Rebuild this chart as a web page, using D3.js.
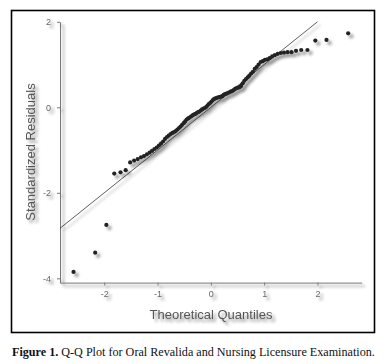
<!DOCTYPE html>
<html><head><meta charset="utf-8">
<script src="https://cdn.jsdelivr.net/npm/d3@7"></script>
<style>body{margin:0;background:#fff}</style>
</head><body>
<svg id="c" width="386" height="364"></svg>
<script>
// ---- data ----
const theoretical = [
 -2.576,-2.170,-1.960,-1.812,-1.695,-1.598,-1.514,-1.440,-1.372,-1.311,
 -1.254,-1.200,-1.150,-1.103,-1.058,-1.015,-0.974,-0.935,-0.896,-0.860,
 -0.824,-0.789,-0.755,-0.722,-0.690,-0.659,-0.628,-0.598,-0.568,-0.539,
 -0.510,-0.482,-0.454,-0.426,-0.399,-0.372,-0.345,-0.319,-0.292,-0.266,
 -0.240,-0.215,-0.189,-0.164,-0.138,-0.113,-0.088,-0.063,-0.038,-0.013,
 0.013,0.038,0.063,0.088,0.113,0.138,0.164,0.189,0.215,0.240,
 0.266,0.292,0.319,0.345,0.372,0.399,0.426,0.454,0.482,0.510,
 0.539,0.568,0.598,0.628,0.659,0.690,0.722,0.755,0.789,0.824,
 0.860,0.896,0.935,0.974,1.015,1.058,1.103,1.150,1.200,1.254,
 1.311,1.372,1.440,1.514,1.598,1.695,1.812,1.960,2.170,2.576];
const residuals = [
 -3.85,-3.40,-2.75,-1.55,-1.52,-1.47,-1.29,-1.245,-1.21,-1.17,
 -1.14,-1.10,-1.06,-1.02,-0.975,-0.94,-0.895,-0.85,-0.80,-0.74,
 -0.695,-0.66,-0.625,-0.60,-0.58,-0.555,-0.52,-0.485,-0.45,-0.41,
 -0.37,-0.33,-0.285,-0.26,-0.24,-0.215,-0.19,-0.17,-0.155,-0.135,
 -0.11,-0.10,-0.075,-0.05,-0.03,-0.016,0.007,0.04,0.077,0.10,
 0.135,0.17,0.195,0.21,0.22,0.235,0.24,0.25,0.26,0.29,
 0.31,0.32,0.335,0.35,0.365,0.38,0.40,0.43,0.45,0.46,
 0.47,0.50,0.56,0.62,0.66,0.70,0.74,0.79,0.83,0.90,
 0.94,1.00,1.06,1.08,1.11,1.12,1.15,1.19,1.22,1.25,
 1.27,1.28,1.29,1.29,1.32,1.34,1.34,1.56,1.575,1.73];
const xTicks = [-2,-1,0,1,2];
const yTicks = [-4,-2,0,2];
const xDomain = [-2.83, 2.83];
const yDomain = [-4.1, 2];
const qqSlope = 1, qqIntercept = 0;
const xTitle = "Theoretical Quantiles";
const yTitle = "Standardized Residuals";
const captionBold = "Figure 1.";
const captionRest = " Q-Q Plot for Oral Revalida and Nursing Licensure Examination.";

// ---- drawing ----
const svg = d3.select("#c");
const defs = svg.append("defs");
const f = defs.append("filter").attr("id","sh").attr("x","-20%").attr("y","-20%").attr("width","140%").attr("height","140%");
f.append("feGaussianBlur").attr("in","SourceAlpha").attr("stdDeviation",1.7).attr("result","b");
f.append("feOffset").attr("in","b").attr("dx",2.5).attr("dy",3).attr("result","o");
f.append("feComponentTransfer").attr("in","o").attr("result","t")
  .append("feFuncA").attr("type","linear").attr("slope",0.45);
const m = f.append("feMerge");
m.append("feMergeNode").attr("in","t");
m.append("feMergeNode").attr("in","SourceGraphic");

svg.append("rect").attr("x",11.5).attr("y",10.5).attr("width",363).attr("height",322)
  .attr("fill","#fff").attr("stroke","#000").attr("stroke-width",1.6);

const x = d3.scaleLinear().domain(xDomain).range([60, 361.7]);
const y = d3.scaleLinear().domain(yDomain).range([282.6, 21.8]);

const g = svg.append("g").attr("filter","url(#sh)");

const ax = g.append("g").attr("transform",`translate(0,${y(yDomain[0])})`)
  .call(d3.axisBottom(x).tickValues(xTicks).tickSize(3).tickSizeOuter(0).tickPadding(5)
    .tickFormat(d => String(d)));
const ay = g.append("g").attr("transform",`translate(${x(xDomain[0])},0)`)
  .call(d3.axisLeft(y).tickValues(yTicks).tickSize(3).tickSizeOuter(0).tickPadding(6)
    .tickFormat(d => String(d)));
[ax, ay].forEach(a => {
  a.select(".domain").attr("stroke","#777").attr("stroke-width",1);
  a.selectAll(".tick line").attr("stroke","#777");
  a.selectAll(".tick text").attr("fill","#666").style("font-family","'Liberation Sans',Arial,sans-serif").style("font-size","9px");
});

// reference line y = intercept + slope * x, clipped at top of the y range
const xEnd = Math.min(xDomain[1], (yDomain[1] - qqIntercept) / qqSlope);
g.append("line")
  .attr("x1", x(xDomain[0])).attr("y1", y(qqIntercept + qqSlope * xDomain[0]))
  .attr("x2", x(xEnd)).attr("y2", y(qqIntercept + qqSlope * xEnd))
  .attr("stroke","#333").attr("stroke-width",0.8);

g.append("g").selectAll("circle").data(theoretical.map((t,i)=>[t,residuals[i]]))
  .join("circle").attr("cx",d=>x(d[0])).attr("cy",d=>y(d[1])).attr("r",2.1).attr("fill","#222");

g.append("text").text(xTitle).attr("x",211).attr("y",319).attr("text-anchor","middle")
  .attr("fill","#555").style("font-family","'Liberation Sans',Arial,sans-serif").style("font-size","13px");
g.append("text").text(yTitle).attr("transform","translate(35,152) rotate(-90)").attr("text-anchor","middle")
  .attr("fill","#555").style("font-family","'Liberation Sans',Arial,sans-serif").style("font-size","13px");

const cap = svg.append("text").attr("x",12).attr("y",356).attr("fill","#111")
  .style("font-family","'Liberation Serif','Times New Roman',serif").style("font-size","11px");
cap.append("tspan").attr("font-weight","bold").text(captionBold);
cap.append("tspan").text(captionRest);
const w = cap.node().getComputedTextLength();
cap.style("font-size", (11 * 363 / w).toFixed(2) + "px");
</script>
</body></html>
